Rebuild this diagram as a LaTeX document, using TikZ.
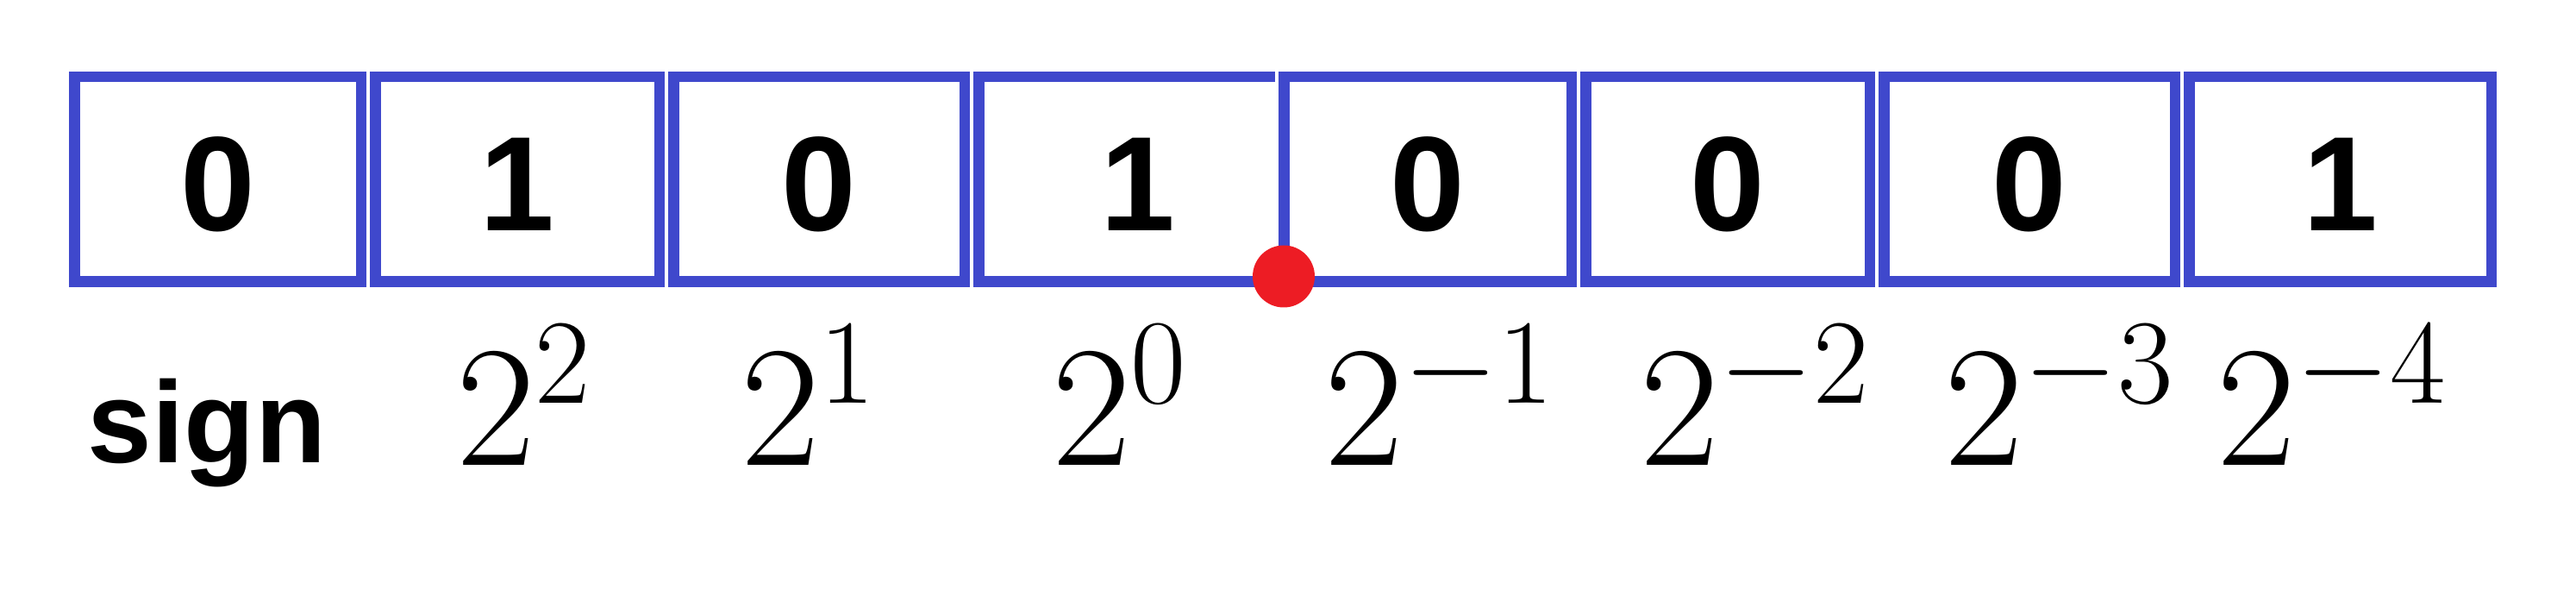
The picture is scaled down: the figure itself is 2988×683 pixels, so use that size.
\RequirePackage{fix-cm}
\documentclass[tikz,border=0pt]{standalone}
\usepackage[no-math]{fontspec}
\newfontfamily\sansfnt{Liberation Sans}
\definecolor{boxblue}{RGB}{63,72,204}
\definecolor{dotred}{RGB}{237,28,36}
\tikzset{
  cell/.style={draw=boxblue, line width=3.125pt, rectangle, inner sep=0pt, outer sep=0pt, minimum height=59.375pt},
  cellopen/.style={rectangle, inner sep=0pt, outer sep=0pt, minimum height=59.375pt},
  openline/.style={draw=boxblue, line width=3.125pt},
  digit/.style={inner sep=0pt, font=\sansfnt\bfseries\fontsize{39}{44}\selectfont},
  signlbl/.style={inner sep=0pt, anchor=base, font=\sansfnt\bfseries\fontsize{33.6}{40}\selectfont},
  powlbl/.style={inner sep=0pt, anchor=base, font=\fontsize{50}{60}\selectfont},
  pointdot/.style={circle, fill=dotred, inner sep=0pt, minimum size=18pt}
}
\begin{document}
\begin{tikzpicture}[x=0.25pt, y=-0.25pt]
\useasboundingbox (0,0) rectangle (2988,683);
% boxes
\node[cell, minimum width=83.125pt] (b1) at (252.5,208) {};
\node[cell, minimum width=82.375pt] (b2) at (600,208) {};
\node[cell, minimum width=84.375pt] (b3) at (950,208) {};
\node[cellopen, minimum width=88.4375pt] (b4) at (1312.125,208) {};
\draw[openline] ([xshift=-2.5pt]b4.north east) -- (b4.north west) -- (b4.south west) -- ([xshift=-2.5pt]b4.south east);
\node[cell, minimum width=83.375pt] (b5) at (1656,208) {};
\node[cell, minimum width=82.375pt] (b6) at (2004,208) {};
\node[cell, minimum width=84.375pt] (b7) at (2354,208) {};
\node[cell, minimum width=87.625pt] (b8) at (2714.5,208) {};
% digits
\node[digit] (d1) at (252.5,214) {0};
\node[digit] (d2) at (600,214) {1};
\node[digit] (d3) at (950,214) {0};
\node[digit] (d4) at (1320,214) {1};
\node[digit] (d5) at (1656,214) {0};
\node[digit] (d6) at (2004,214) {0};
\node[digit] (d7) at (2354,214) {0};
\node[digit] (d8) at (2714.5,214) {1};
% binary point
\node[pointdot] (dot) at (1489,320.5) {};
% labels
\node[signlbl] (lsign) at (240,537) {sign};
\node[powlbl] (p2) at (608,540) {$2^{2}$};
\node[powlbl] (p1) at (938,540) {$2^{1}$};
\node[powlbl] (p0) at (1299,540) {$2^{0}$};
\node[powlbl] (pm1) at (1670,540) {$2^{-1}$};
\node[powlbl] (pm2) at (2036,540) {$2^{-2}$};
\node[powlbl] (pm3) at (2389,540) {$2^{-3}$};
\node[powlbl] (pm4) at (2705,540) {$2^{-4}$};
\end{tikzpicture}
\end{document}
